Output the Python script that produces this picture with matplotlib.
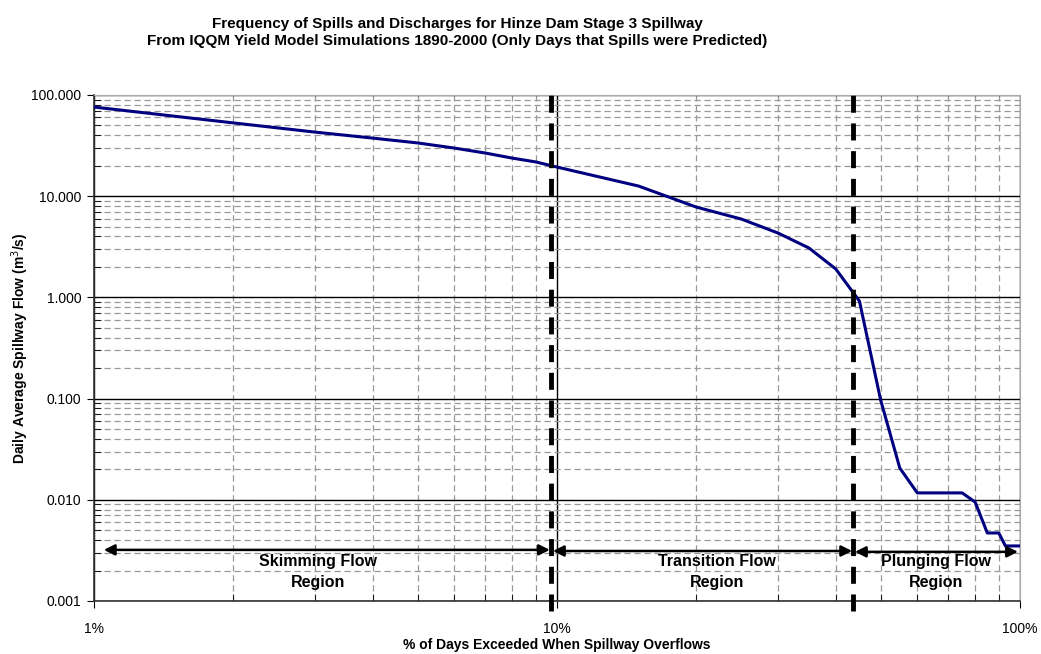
import matplotlib
matplotlib.use("Agg")
import matplotlib.pyplot as plt
from matplotlib.ticker import FixedLocator, NullFormatter, FuncFormatter, LogLocator

# ---- data ----
pct_exceeded = [1, 2, 3, 4, 5, 6, 7, 8, 9, 10, 15, 20, 25, 30, 35, 40, 45, 50, 55, 60, 75, 80, 85, 90, 93, 100]
flow = [76.0, 53.0, 43.0, 37.5, 33.6, 29.9, 26.7, 23.8, 21.8, 19.4, 12.6, 7.8, 5.95, 4.33, 3.08, 1.91,
        0.92, 0.097, 0.0206, 0.0117, 0.0117, 0.0095, 0.0047, 0.0047, 0.0035, 0.0035]
boundaries = [9.7, 43.6]
region_names = ["Skimming Flow\nRegion", "Transition Flow\nRegion", "Plunging Flow\nRegion"]
region_text_x = [3.05, 22.2, 66.0]
region_arrows = [(1.05, 9.65, 0.0032), (9.8, 43.4, 0.00312), (44.0, 99.0, 0.00306)]
x_ticks = [1, 10, 100]
x_tick_labels = ["1%", "10%", "100%"]
y_ticks = [0.001, 0.01, 0.1, 1, 10, 100]

plt.rcParams['font.family'] = ['Liberation Sans', 'DejaVu Sans']

fig = plt.figure(figsize=(10.41, 6.54), dpi=100)
ax = fig.add_axes([94/1041, 53/654, (1020-94)/1041, (601-95)/654])
ax.set_xscale('log')
ax.set_yscale('log')
ax.set_xlim(1, 100)
ax.set_ylim(0.001, 100)

# grid
ax.xaxis.set_major_locator(FixedLocator(x_ticks))
ax.xaxis.set_minor_locator(LogLocator(base=10, subs=range(2, 10)))
ax.yaxis.set_major_locator(FixedLocator(y_ticks))
ax.yaxis.set_minor_locator(LogLocator(base=10, subs=range(2, 10)))
ax.xaxis.set_minor_formatter(NullFormatter())
ax.yaxis.set_minor_formatter(NullFormatter())
ax.set_xticklabels(x_tick_labels)
ax.yaxis.set_major_formatter(FuncFormatter(lambda v, p: f"{v:.3f}"))

ax.grid(which='major', axis='both', color='black', linestyle='-', linewidth=1.0)
ax.grid(which='minor', axis='both', color='#999999', linestyle=(0, (5, 3)), linewidth=0.9)
ax.set_axisbelow(True)

for s in ['top', 'right']:
    ax.spines[s].set_color('#aaaaaa')
for s in ['left', 'bottom']:
    ax.spines[s].set_color('#333333')
    ax.spines[s].set_linewidth(1.2)

ax.tick_params(axis='both', which='major', direction='out', length=5, labelsize=10, pad=4)
ax.tick_params(axis='y', which='minor', direction='in', length=5)
ax.tick_params(axis='x', which='minor', direction='in', length=5)
ax.tick_params(axis='x', which='major', pad=10)

# curve
ax.plot(pct_exceeded, flow, color='#000080', linewidth=2.2, zorder=4)

# boundaries
for b in boundaries:
    ax.plot([b, b], [-0.02, 1.012], transform=ax.get_xaxis_transform(), color='black',
            linewidth=3.5, linestyle=(0, (3.5, 2.2)), clip_on=False, zorder=5)

# arrows
for (x0, x1, yv) in region_arrows:
    ax.annotate('', xy=(x0, yv), xytext=(x1, yv),
                arrowprops=dict(arrowstyle='<|-|>', color='black', lw=1.8,
                                mutation_scale=16, shrinkA=0, shrinkB=0), zorder=6)

for name, tx in zip(region_names, region_text_x):
    ax.text(tx, 0.00195, name, ha='center', va='center', fontsize=11.5, fontweight='bold',
            linespacing=1.5, zorder=6)

fig.text(557/1041, 1 - 645/654, '% of Days Exceeded When Spillway Overflows',
         ha='center', va='center', fontsize=10, fontweight='bold')
fig.text(20/1041, 1 - 348/654, 'Daily Average Spillway Flow (m$^3$/s)', rotation=90,
         ha='center', va='center', fontsize=10, fontweight='bold')

fig.text(0.439, 0.974, 'Frequency of Spills and Discharges for Hinze Dam Stage 3 Spillway\n'
         'From IQQM Yield Model Simulations 1890-2000 (Only Days that Spills were Predicted)',
         ha='center', va='top', fontsize=11, fontweight='bold', linespacing=1.3)

fig.savefig('out.png', dpi=100)
